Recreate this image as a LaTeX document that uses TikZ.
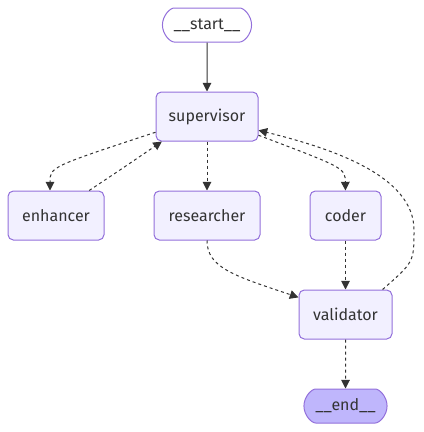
\documentclass[tikz,border=0pt]{standalone}
\usepackage{fontspec}
\setmainfont{Fira Sans}
\usepackage{xcolor}
\usetikzlibrary{arrows.meta,shapes.misc}
\definecolor{nodefill}{HTML}{F2F0FF}
\definecolor{endfill}{HTML}{BFB6FC}
\definecolor{borde}{HTML}{9370DB}
\definecolor{linea}{HTML}{333333}

\begin{document}
\begin{tikzpicture}[x=0.75pt, y=-0.75pt,
  caja/.style={draw=borde, rounded corners=4pt, fill=nodefill, minimum height=36.75pt,
               text=linea, font=\fontsize{12}{14}\selectfont, line width=0.75pt},
  term/.style={caja, rounded rectangle, minimum height=25.5pt},
  flecha/.style={-{Triangle[length=6.5pt,width=6.5pt]}, linea, line width=0.75pt},
  punteada/.style={flecha, dash pattern=on 2.25pt off 2.25pt}]
\useasboundingbox (0,0) rectangle (424,432);
\node[term, fill=white, minimum width=73.5pt] (start) at (207,25) {\_\_start\_\_};
\node[caja, minimum width=76.5pt] (supervisor) at (207,116.5) {supervisor};
\node[caja, minimum width=72pt] (enhancer) at (56,215.5) {enhancer};
\node[caja, minimum width=79.5pt] (researcher) at (207,215.5) {researcher};
\node[caja, minimum width=53.25pt] (coder) at (345.5,215.5) {coder};
\node[caja, minimum width=69.75pt] (validator) at (345.5,314.5) {validator};
\node[term, fill=endfill, minimum width=69pt] (end) at (345.5,406) {\_\_end\_\_};
\draw[flecha] (start) -- (supervisor);
\foreach \a/\b in {supervisor/researcher, coder/validator, validator/end}
  \draw[punteada] (\a) -- (\b);
% curved edges
\draw[punteada] (supervisor.197) .. controls (50,167) .. ([xshift=-4.5pt]enhancer.north);
\draw[punteada] (enhancer.37) .. controls (120,170) .. (supervisor.209);
\draw[punteada] (supervisor.340) .. controls (345,168) .. (coder.north);
\draw[punteada] (researcher.south) .. controls (207,268) and (235,276) .. (validator.160);
\draw[punteada] (validator.34) .. controls (414,262) .. (414,230)
  .. controls (414,175) and (330,148) .. (supervisor.345);
\end{tikzpicture}
\end{document}
